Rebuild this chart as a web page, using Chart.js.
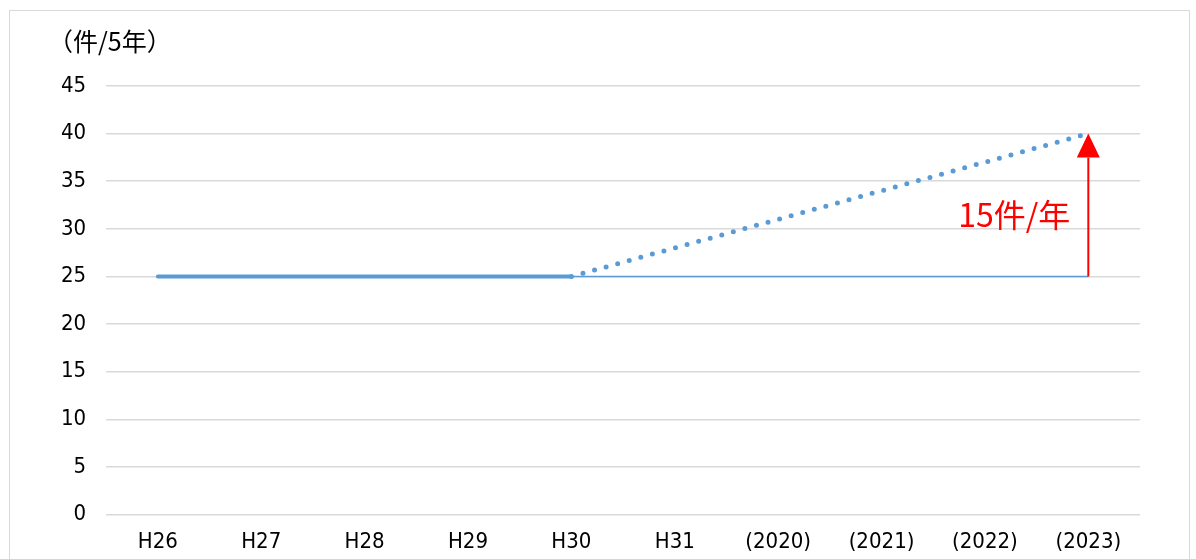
<!DOCTYPE html>
<html>
<head>
<meta charset="utf-8">
<script src="https://cdn.jsdelivr.net/npm/chart.js@4/dist/chart.umd.min.js"></script>
<style>
    html, body { margin: 0; padding: 0; background: #fff; }
    #frame {
        position: absolute; left: 9px; top: 10px;
        width: 1181px; height: 560px;
        border: 1px solid #d9d9d9; box-sizing: border-box;
    }
    #chart { display: block; }
</style>
</head>
<body>
<div id="frame"><canvas id="chart" width="1179" height="558"></canvas></div>
<script>
const categories = ['H26', 'H27', 'H28', 'H29', 'H30', 'H31', '(2020)', '(2021)', '(2022)', '(2023)'];
const actual = [25, 25, 25, 25, 25, null, null, null, null, null];
const target = [null, null, null, null, 25, null, null, null, null, 40];
const baseline = [null, null, null, null, 25, null, null, null, null, 25];
const unitLabel = '（件/5年）';
const increaseLabel = '15件/年';
const yTicks = { min: 0, max: 45, step: 5 };

const FONT = '"DejaVu Sans Condensed", "Noto Sans CJK JP", sans-serif';
const CJK = '"Noto Sans CJK JP", sans-serif';
const blue = '#5B9BD5';

// arrow from baseline to target at the last category, plus unit label
const annotations = {
    id: 'annotations',
    afterDatasetsDraw(chart) {
        const { ctx, scales: { x, y } } = chart;
        const last = categories.length - 1;
        const ax = x.getPixelForValue(last);
        const y0 = y.getPixelForValue(baseline[last]);
        const y1 = y.getPixelForValue(target[last]);
        const headH = 24, headW = 23;
        ctx.save();
        ctx.strokeStyle = '#FF0000';
        ctx.fillStyle = '#FF0000';
        ctx.lineWidth = 2;
        ctx.beginPath();
        ctx.moveTo(ax, y0);
        ctx.lineTo(ax, y1 + headH);
        ctx.stroke();
        ctx.beginPath();
        ctx.moveTo(ax, y1);
        ctx.lineTo(ax - headW / 2, y1 + headH);
        ctx.lineTo(ax + headW / 2, y1 + headH);
        ctx.closePath();
        ctx.fill();

        ctx.font = '32px ' + CJK;
        ctx.textAlign = 'right';
        ctx.textBaseline = 'middle';
        ctx.fillText(increaseLabel, ax - 18, (y0 + y1) / 2 + 10);

        ctx.fillStyle = '#000';
        ctx.font = '25px ' + CJK;
        ctx.textAlign = 'left';
        ctx.fillText(unitLabel, 38, 30);
        ctx.restore();
    }
};

new Chart(document.getElementById('chart'), {
    type: 'line',
    data: {
        labels: categories,
        datasets: [
            {
                data: baseline,
                borderColor: blue,
                borderWidth: 1.5,
                pointRadius: 0,
                spanGaps: true
            },
            {
                data: target,
                borderColor: blue,
                borderWidth: 5,
                borderDash: [0, 12],
                borderCapStyle: 'round',
                pointRadius: 0,
                spanGaps: true
            },
            {
                data: actual,
                borderColor: blue,
                borderWidth: 4,
                borderCapStyle: 'round',
                pointRadius: 0
            }
        ]
    },
    options: {
        responsive: false,
        animation: false,
        layout: { padding: { top: 75, right: 49, left: 31, bottom: 8 } },
        plugins: {
            legend: { display: false },
            tooltip: { enabled: false }
        },
        scales: {
            x: {
                offset: true,
                grid: { display: false },
                border: { display: false },
                ticks: { color: '#000', font: { family: FONT, size: 22 }, padding: 6, maxRotation: 0 }
            },
            y: {
                min: yTicks.min,
                max: yTicks.max,
                grid: { color: '#d9d9d9', lineWidth: 1.5, drawTicks: false },
                border: { display: false },
                ticks: { stepSize: yTicks.step, color: '#000', font: { family: FONT, size: 22 }, padding: 20 }
            }
        }
    },
    plugins: [annotations]
});
</script>
</body>
</html>
